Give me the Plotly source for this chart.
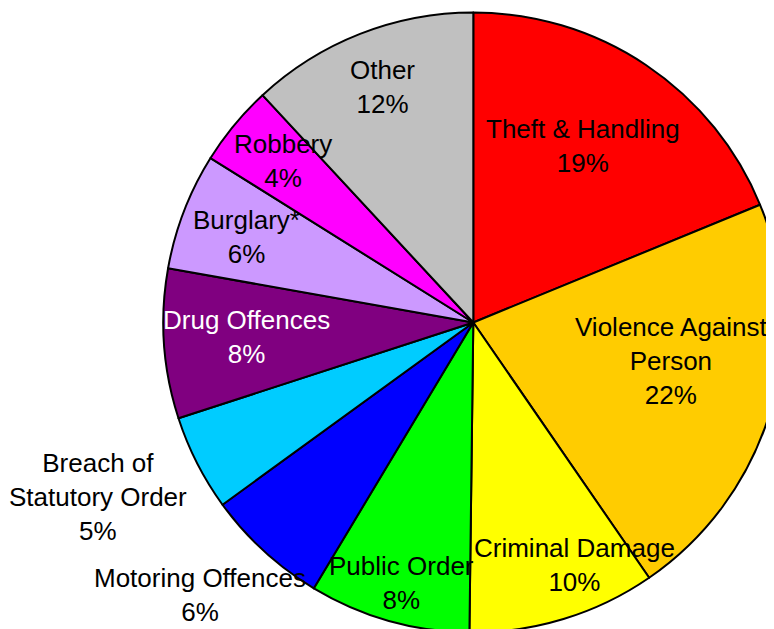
import plotly.graph_objects as go

categories = ["Theft & Handling", "Violence Against<br>Person", "Criminal Damage",
              "Public Order", "Motoring Offences", "Breach of<br>Statutory Order",
              "Drug Offences", "Burglary*", "Robbery", "Other"]
shares = [18.8, 21.6, 9.8, 8.4, 6.4, 5.0, 7.8, 6.1, 4.2, 11.9]
colors = ["#FF0000", "#FFCC00", "#FFFF00", "#00FF00", "#0000FF",
          "#00CCFF", "#800080", "#CC99FF", "#FF00FF", "#C0C0C0"]
text_colors = ["black", "black", "black", "black", "black",
               "black", "white", "black", "black", "black"]
# label block centres in window pixels (x, y)
label_pos = [(583, 146), (671, 361), (574, 565), (401, 583), (200, 595),
             (98, 497), (246, 337), (246, 237), (283, 161), (382, 87)]

FONT = "Liberation Sans, Arial, sans-serif"
SIZE = 26
W, H = 790, 640          # figure is larger than the window; window clips it
OFF = 8                  # page body margin

cx, cy, r = 473.3, 322.5, 310.0   # pie centre / radius in window pixels
dom_x = [(cx - r - OFF) / W, (cx + r - OFF) / W]
dom_y = [1 - (cy + r - OFF) / H, 1 - (cy - r - OFF) / H]

fig = go.Figure(go.Pie(
    labels=categories,
    values=shares,
    sort=False,
    direction="clockwise",
    rotation=0,
    marker=dict(colors=colors, line=dict(color="black", width=2)),
    textinfo="none",
    showlegend=False,
    hoverinfo="label+percent",
    domain=dict(x=dom_x, y=dom_y),
))

total = sum(shares)
annotations = []
for name, v, col, (px, py) in zip(categories, shares, text_colors, label_pos):
    pct = int(v / total * 100 + 0.5)
    annotations.append(dict(
        x=(px - OFF) / W, y=1 - (py - OFF) / H, xref="paper", yref="paper",
        text=f"{name}<br>{pct}%",
        showarrow=False, xanchor="center", yanchor="middle", align="center",
        font=dict(family=FONT, size=SIZE, color=col),
    ))

fig.update_layout(
    width=W, height=H,
    margin=dict(l=0, r=0, t=0, b=0),
    paper_bgcolor="white",
    plot_bgcolor="white",
    font=dict(family=FONT, size=SIZE, color="black"),
    annotations=annotations,
)

fig.write_html("out.html")
